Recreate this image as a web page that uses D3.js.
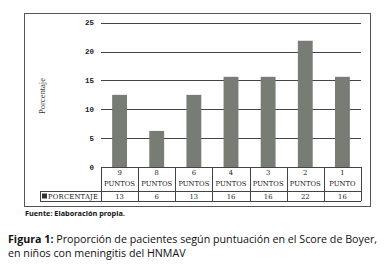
<!DOCTYPE html>
<html>
<head>
<meta charset="utf-8">
<script src="https://cdn.jsdelivr.net/npm/d3@7"></script>
<style>
  body { margin: 0; background: #fff; }
  svg { display: block; }
</style>
</head>
<body>
<div id="chart"></div>
<script>
// data
var categories = ["9 PUNTOS", "8 PUNTOS", "6 PUNTOS", "4 PUNTOS", "3 PUNTOS", "2 PUNTOS", "1 PUNTO"];
var values = [12.5, 6.25, 12.5, 15.625, 15.625, 21.875, 15.625];
var tableLabels = ["13", "6", "13", "16", "16", "22", "16"];
var yTicks = [0, 5, 10, 15, 20, 25];
var seriesName = "PORCENTAJE";

var W = 388, H = 274;
var svg = d3.select("#chart").append("svg")
    .attr("width", W).attr("height", H);

// outer frame
svg.append("rect")
    .attr("x", 24.5).attr("y", 13.5)
    .attr("width", 346).attr("height", 193)
    .attr("fill", "none").attr("stroke", "#58545c").attr("stroke-width", 1);

var plotL = 101, plotR = 361, plotB = 167;

var x = d3.scaleBand()
    .domain(categories)
    .range([plotL, plotR])
    .paddingInner(0.6)
    .paddingOuter(0.3);

var y = d3.scaleLinear()
    .domain([0, 25])
    .range([plotB, 22.7]);

// gridlines
svg.append("g").selectAll("line")
    .data(yTicks.filter(function(d) { return d > 0; }))
    .enter().append("line")
    .attr("x1", plotL).attr("x2", plotR)
    .attr("y1", function(d) { return Math.round(y(d)) + 0.5; })
    .attr("y2", function(d) { return Math.round(y(d)) + 0.5; })
    .attr("stroke", "#444448").attr("stroke-width", 1);

// y tick labels
svg.append("g").selectAll("text")
    .data(yTicks)
    .enter().append("text")
    .attr("x", 94)
    .attr("y", function(d) { return y(d) + 2.5; })
    .attr("text-anchor", "end")
    .style("font-family", "'Liberation Mono', 'DejaVu Sans Mono', monospace")
    .style("font-weight", "bold")
    .style("font-size", "7.5px")
    .attr("fill", "#222")
    .text(function(d) { return d; });

// y axis title
svg.append("text")
    .attr("transform", "translate(45,96) rotate(-90)")
    .attr("text-anchor", "middle")
    .style("font-family", "'Liberation Serif', 'DejaVu Serif', serif")
    .style("font-size", "8.5px")
    .attr("fill", "#333")
    .text("Porcentaje");

// bars
svg.append("g").selectAll("rect")
    .data(values)
    .enter().append("rect")
    .attr("x", function(d, i) { return x(categories[i]); })
    .attr("y", function(d) { return y(d); })
    .attr("width", x.bandwidth())
    .attr("height", function(d) { return y(0) - y(d); })
    .attr("fill", "#777c75");

// data table
var step = x.step();
var rowTop = plotB, rowMid = 191, rowBot = 201, legL = 40;
var tbl = svg.append("g")
    .attr("stroke", "#444448").attr("stroke-width", 1).attr("fill", "none");

tbl.append("line").attr("x1", plotL).attr("x2", plotR)
    .attr("y1", rowTop + 0.5).attr("y2", rowTop + 0.5);
tbl.append("line").attr("x1", legL).attr("x2", plotR)
    .attr("y1", rowMid + 0.5).attr("y2", rowMid + 0.5);
tbl.append("line").attr("x1", legL).attr("x2", plotR)
    .attr("y1", rowBot + 0.5).attr("y2", rowBot + 0.5);
tbl.append("line").attr("x1", legL + 0.5).attr("x2", legL + 0.5)
    .attr("y1", rowMid).attr("y2", rowBot);

var colEdges = d3.range(categories.length + 1).map(function(i) { return plotL + i * step; });
tbl.selectAll("line.col")
    .data(colEdges)
    .enter().append("line")
    .attr("class", "col")
    .attr("x1", function(d) { return Math.round(d) + 0.5; })
    .attr("x2", function(d) { return Math.round(d) + 0.5; })
    .attr("y1", rowTop).attr("y2", rowBot);

var tableFont = "'DejaVu Serif', 'Liberation Serif', serif";

// category labels (two lines)
var cat = svg.append("g").selectAll("text")
    .data(categories)
    .enter().append("text")
    .attr("text-anchor", "middle")
    .style("font-family", tableFont)
    .style("font-size", "6.8px")
    .attr("fill", "#222");
cat.append("tspan")
    .attr("x", function(d) { return x(d) + x.bandwidth() / 2; })
    .attr("y", 175)
    .text(function(d) { return d.split(" ")[0]; });
cat.append("tspan")
    .attr("x", function(d) { return x(d) + x.bandwidth() / 2; })
    .attr("y", 186)
    .text(function(d) { return d.split(" ")[1]; });

// values row
svg.append("g").selectAll("text")
    .data(tableLabels)
    .enter().append("text")
    .attr("x", function(d, i) { return x(categories[i]) + x.bandwidth() / 2; })
    .attr("y", 198.5)
    .attr("text-anchor", "middle")
    .style("font-family", tableFont)
    .style("font-size", "6.8px")
    .attr("fill", "#222")
    .text(function(d) { return d; });

// legend key
svg.append("rect")
    .attr("x", 42).attr("y", 193.5)
    .attr("width", 5).attr("height", 5)
    .attr("fill", "#333");
svg.append("text")
    .attr("x", 48).attr("y", 198.5)
    .attr("textLength", 50)
    .style("font-family", tableFont)
    .style("font-size", "6.8px")
    .attr("fill", "#222")
    .text(seriesName);

// source note
svg.append("text")
    .attr("x", 25).attr("y", 216)
    .style("font-family", "'Open Sans', 'DejaVu Sans', sans-serif")
    .style("font-weight", "bold")
    .style("font-size", "7.3px")
    .attr("fill", "#111")
    .text("Fuente: Elaboración propia.");

// caption
var cap = svg.append("text")
    .style("font-family", "'Open Sans', 'DejaVu Sans', sans-serif")
    .style("font-size", "10.7px")
    .attr("fill", "#111");
var l1 = cap.append("tspan").attr("x", 8).attr("y", 243);
l1.append("tspan").style("font-weight", "bold").text("Figura 1:");
l1.append("tspan").text(" Proporción de pacientes según puntuación en el Score de Boyer,");
cap.append("tspan").attr("x", 8).attr("y", 257)
    .text("en niños con meningitis del HNMAV");
</script>
</body>
</html>
